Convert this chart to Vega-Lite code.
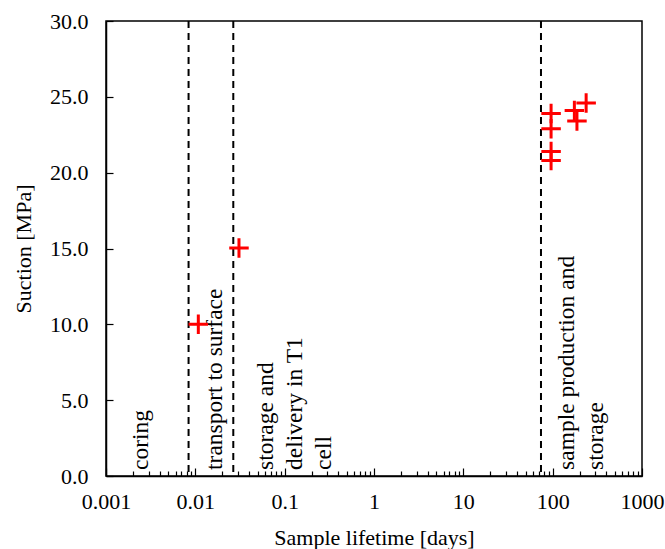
{
  "$schema": "https://vega.github.io/schema/vega-lite/v6.json",
  "width": 536,
  "height": 455,
  "autosize": "none",
  "padding": {"left": 106, "top": 21, "right": 23, "bottom": 73},
  "background": "white",
  "config": {
    "font": "Liberation Serif",
    "view": {"stroke": "black", "strokeWidth": 1.5},
    "axis": {"domainColor": "black", "domainWidth": 1.5, "tickColor": "black", "tickWidth": 1.2, "labelColor": "black", "titleColor": "black", "labelFont": "Liberation Serif", "titleFont": "Liberation Serif", "labelFontSize": 22, "titleFontSize": 22, "titleFontWeight": "normal", "grid": false}
  },
  "datasets": {
    "points": [
      {"lifetime": 0.0108, "suction": 10.0},
      {"lifetime": 0.0308, "suction": 15.03},
      {"lifetime": 96, "suction": 23.9},
      {"lifetime": 96, "suction": 22.9},
      {"lifetime": 96, "suction": 21.4},
      {"lifetime": 96, "suction": 20.8},
      {"lifetime": 175, "suction": 24.1},
      {"lifetime": 187, "suction": 23.4},
      {"lifetime": 237, "suction": 24.6}
    ],
    "phases": [
      {"boundary": 0.0084},
      {"boundary": 0.0266},
      {"boundary": 74}
    ],
    "labels": [
      {"lifetime": 0.0018, "suction": 0.4, "text": ["coring"]},
      {"lifetime": 0.0122, "suction": 0.4, "text": ["transport to surface"]},
      {"lifetime": 0.045, "suction": 0.4, "text": ["storage and", "delivery in T1", "cell"]},
      {"lifetime": 105, "suction": 0.4, "text": ["sample production and", "storage"]}
    ]
  },
  "layer": [
    {
      "data": {"name": "phases"},
      "mark": {"type": "rule", "color": "black", "strokeWidth": 2, "strokeDash": [7, 5]},
      "encoding": {
        "x": {"field": "boundary", "type": "quantitative", "scale": {"type": "log", "domain": [0.001, 1000]}}
      }
    },
    {
      "data": {"name": "labels"},
      "mark": {"type": "text", "angle": 270, "align": "left", "baseline": "top", "fontSize": 23.5, "lineHeight": 29, "color": "black", "font": "Liberation Serif"},
      "encoding": {
        "x": {"field": "lifetime", "type": "quantitative"},
        "y": {"field": "suction", "type": "quantitative"},
        "text": {"field": "text"}
      }
    },
    {
      "data": {"name": "points"},
      "mark": {"type": "point", "shape": "M-1,0L1,0M0,-1L0,1", "filled": false, "stroke": "#ff0000", "strokeWidth": 3, "size": 380, "opacity": 1},
      "encoding": {
        "x": {
          "field": "lifetime", "type": "quantitative",
          "scale": {"type": "log", "domain": [0.001, 1000]},
          "axis": {
            "title": "Sample lifetime [days]",
            "values": [0.001,0.002,0.003,0.004,0.005,0.006,0.007,0.008,0.009,0.01,0.02,0.03,0.04,0.05,0.06,0.07,0.08,0.09,0.1,0.2,0.3,0.4,0.5,0.6,0.7,0.8,0.9,1,2,3,4,5,6,7,8,9,10,20,30,40,50,60,70,80,90,100,200,300,400,500,600,700,800,900,1000],
            "labelExpr": "indexof([0.001,0.01,0.1,1,10,100,1000], datum.value) >= 0 ? '' + datum.value : ''",
            "labelOverlap": false,
            "labelBound": false,
            "labelFlush": false,
            "tickSize": {"condition": {"test": "indexof([0.001,0.01,0.1,1,10,100,1000], datum.value) >= 0", "value": -8}, "value": -5},
            "labelPadding": 23,
            "titlePadding": 12
          }
        },
        "y": {
          "field": "suction", "type": "quantitative",
          "scale": {"domain": [0, 30]},
          "axis": {
            "title": "Suction [MPa]",
            "values": [0, 5, 10, 15, 20, 25, 30],
            "format": ".1f",
            "tickSize": -7,
            "labelPadding": 25,
            "titlePadding": 14
          }
        }
      }
    }
  ]
}
